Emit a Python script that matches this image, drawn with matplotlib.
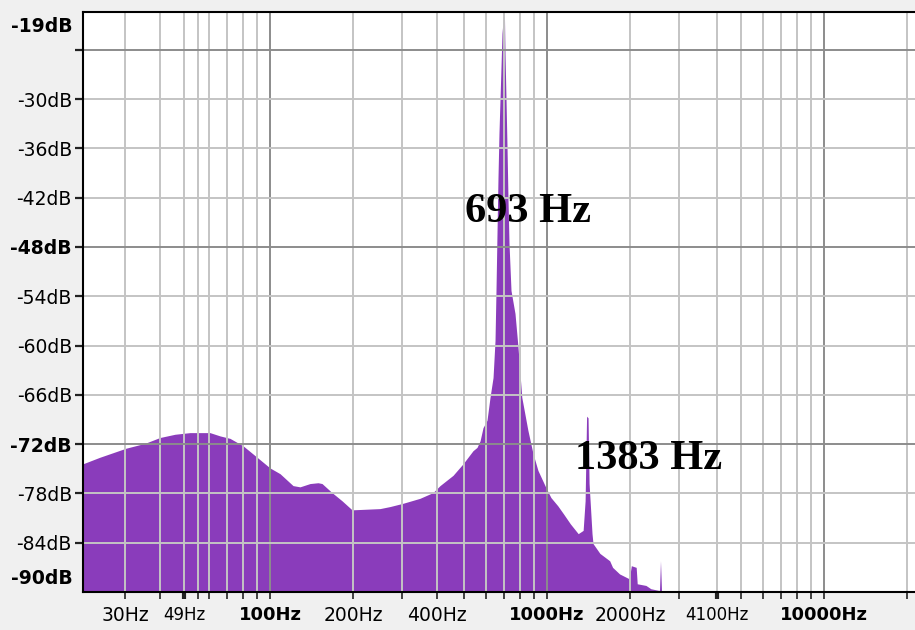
import matplotlib.pyplot as plt
import matplotlib.transforms as mtransforms

# spectrum outline (frequency in Hz, level in dB)
freq_hz = [21.1, 24.3, 30.2, 35.4, 40.0, 45.4, 51.4, 60.7, 66.0, 71.7, 79.9, 89.8,
           100, 108.7, 121.1, 128.3, 139.5, 149.1, 154.1, 167.4, 182.0, 197.8,
           249.5, 271.2, 302.3, 347.7, 387.6, 410.9, 457.9, 497.5, 540.6, 558.9,
           573.3, 587.5, 607.3, 622.8, 638.6, 649.2, 654.5, 660.0, 665.5, 671.0,
           676.6, 682.3, 688.0, 696.7, 702.5, 705.5, 711.4, 717.3, 723.3, 729.3,
           741.5, 766.5, 785.9, 811.0, 853.0, 889.5, 927.5, 991.2, 1032.9, 1093.4,
           1147.6, 1214.0, 1296.2, 1350.6, 1372.9, 1389.9, 1407.0, 1419.0, 1454.0,
           1466.0, 1552.0, 1684.0, 1725.0, 1828.0, 1983.0, 2016.0, 2099.0, 2117.0,
           2276.0, 2370.0, 2527.0, 2548.0, 2569.0, 2590.0, 2634.0, 21310.0]
level_db = [-74.4, -73.6, -72.5, -71.9, -71.2, -70.8, -70.6, -70.6, -71.0, -71.3, -72.2, -73.6,
            -74.9, -75.6, -77.05, -77.2, -76.8, -76.7, -76.8, -77.9, -78.9, -80.0,
            -79.85, -79.6, -79.2, -78.6, -77.9, -77.05, -75.8, -74.4, -72.8, -72.4,
            -71.6, -70.0, -69.1, -66.3, -63.9, -59.4, -53.3, -46.3, -39.5, -34.1,
            -30.1, -26.1, -22.0, -19.8, -20.4, -24.6, -30.1, -35.9, -42.3, -47.6,
            -53.3, -56.1, -60.2, -66.3, -70.3, -73.1, -75.2, -77.3, -78.5, -79.5,
            -80.5, -81.7, -82.9, -82.5, -78.9, -68.6, -68.8, -76.8, -82.9,
            -84.1, -85.3, -86.2, -87.0, -87.8, -88.4, -86.8, -87.0, -89.0,
            -89.2, -89.6, -89.8, -89.8, -86.2, -89.8, -90.0, -90.0]

# axis ticks
x_labelled = [30, 49, 100, 200, 400, 1000, 2000, 4100, 10000]
x_labels = ['30Hz', '49Hz', '100Hz', '200Hz', '400Hz', '1000Hz', '2000Hz', '4100Hz', '10000Hz']
x_grid = [30, 40, 49, 55, 60, 70, 80, 90, 100, 200, 300, 400, 500, 600, 700, 800, 900,
          1000, 2000, 3000, 4100, 5000, 6000, 7000, 8000, 9000, 10000, 20000]
x_major = [100, 1000, 10000]
y_ticks = [-24, -30, -36, -42, -48, -54, -60, -66, -72, -78, -84]
y_labels = ['', '-30dB', '-36dB', '-42dB', '-48dB', '-54dB', '-60dB', '-66dB', '-72dB', '-78dB', '-84dB']
y_major = [-24, -48, -72]

fig = plt.figure(figsize=(9.15, 6.3), dpi=100, facecolor='#f0f0f0')
ax = fig.add_axes([83 / 915, 1 - 592 / 630, 1 - 83 / 915, 580 / 630])
ax.set_facecolor('white')

ax.set_xscale('log')
ax.set_xlim(21.13, 21310)
ax.set_ylim(-90, -19.4)

# filled spectrum
ax.fill_between(freq_hz, level_db, -90, color='#8a3cbb', linewidth=0, zorder=1)

# grid drawn over the spectrum
for f in x_grid:
    c = '#8c8c8c' if f in x_major else '#c4c4c4'
    ax.axvline(f, color=c, linewidth=1.4, zorder=2)
for d in y_ticks:
    c = '#8c8c8c' if d in y_major else '#c4c4c4'
    ax.axhline(d, color=c, linewidth=1.4, zorder=2)

# x ticks
ax.set_xticks(x_grid)
ax.set_xticklabels([x_labels[x_labelled.index(f)] if f in x_labelled else '' for f in x_grid])
ax.minorticks_off()
ax.tick_params(axis='x', direction='out', length=5, width=1.2, color='#222222',
               pad=5, labelsize=13.5)
for f, lab, tk in zip(x_grid, ax.get_xticklabels(), ax.xaxis.get_major_ticks()):
    if f in x_major:
        lab.set_fontweight('bold')
        lab.set_fontsize(13)
    if f in (49, 4100):
        lab.set_fontsize(12)
        tk.tick1line.set_markeredgewidth(3)

# y ticks
ax.set_yticks(y_ticks)
ax.set_yticklabels(y_labels)
ax.tick_params(axis='y', direction='out', length=6, width=1.6, color='#222222',
               pad=2, labelsize=13.5)
for d, lab in zip(y_ticks, ax.get_yticklabels()):
    if d in (-48, -72):
        lab.set_fontweight('bold')

# end labels of the level axis
trans = mtransforms.blended_transform_factory(fig.transFigure, fig.transFigure)
fig.text(73 / 915, 1 - 27 / 630, '-19dB', ha='right', va='center',
         fontsize=13.5, fontweight='bold')
fig.text(73 / 915, 1 - 578 / 630, '-90dB', ha='right', va='center',
         fontsize=13.5, fontweight='bold')

for side in ['top', 'left', 'bottom']:
    ax.spines[side].set_color('black')
    ax.spines[side].set_linewidth(1.5)
    ax.spines[side].set_zorder(3)
ax.spines['right'].set_visible(False)

# peak annotations
ax.text(505.8, -43.8, '693 Hz', ha='left', va='center', fontsize=30.5,
        fontweight='bold', family='Liberation Serif', zorder=4)
ax.text(1262, -73.8, '1383 Hz', ha='left', va='center', fontsize=30.5,
        fontweight='bold', family='Liberation Serif', zorder=4)

fig.savefig('out.png', dpi=100, facecolor=fig.get_facecolor())
